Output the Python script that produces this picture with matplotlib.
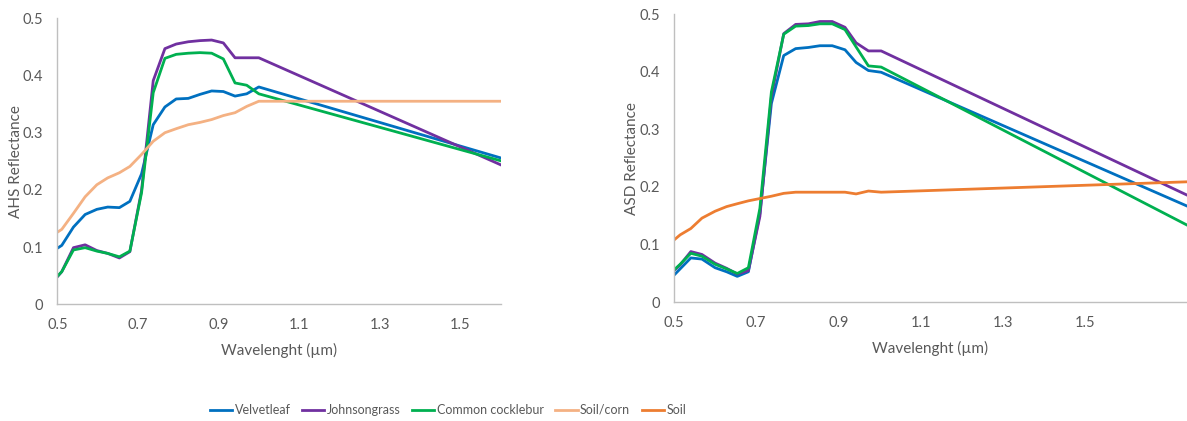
import matplotlib.pyplot as plt

plt.rcParams["font.family"] = ["Lato", "DejaVu Sans"]

# AHS bands (left panel)
ahs_wl = [0.5, 0.511, 0.540, 0.569, 0.598, 0.625, 0.654, 0.680, 0.709, 0.738,
          0.767, 0.795, 0.825, 0.854, 0.883, 0.912, 0.941, 0.970, 1.0, 1.6]
ahs_velvetleaf = [0.098, 0.103, 0.135, 0.157, 0.166, 0.170, 0.169, 0.180, 0.228, 0.314,
                  0.345, 0.359, 0.360, 0.367, 0.373, 0.372, 0.364, 0.368, 0.380, 0.256]
ahs_johnsongrass = [0.048, 0.057, 0.099, 0.104, 0.094, 0.089, 0.081, 0.092, 0.199, 0.391,
                    0.447, 0.455, 0.459, 0.461, 0.462, 0.457, 0.431, 0.431, 0.431, 0.244]
ahs_cocklebur = [0.049, 0.057, 0.095, 0.099, 0.093, 0.089, 0.083, 0.093, 0.195, 0.370,
                 0.430, 0.437, 0.439, 0.440, 0.439, 0.429, 0.387, 0.383, 0.368, 0.251]
ahs_soil_corn = [0.126, 0.131, 0.159, 0.188, 0.209, 0.221, 0.230, 0.241, 0.262, 0.285,
                 0.300, 0.307, 0.314, 0.318, 0.323, 0.330, 0.335, 0.346, 0.355, 0.355]

# ASD resampled (right panel)
asd_wl = [0.5, 0.515, 0.541, 0.568, 0.600, 0.628, 0.654, 0.681, 0.709, 0.737,
          0.767, 0.796, 0.827, 0.855, 0.885, 0.916, 0.943, 0.973, 1.004, 1.748]
asd_velvetleaf = [0.047, 0.058, 0.077, 0.075, 0.060, 0.053, 0.045, 0.053, 0.154, 0.345,
                  0.428, 0.440, 0.442, 0.445, 0.445, 0.438, 0.416, 0.402, 0.399, 0.167]
asd_johnsongrass = [0.055, 0.065, 0.088, 0.083, 0.068, 0.059, 0.049, 0.055, 0.149, 0.357,
                    0.466, 0.482, 0.483, 0.487, 0.487, 0.477, 0.450, 0.436, 0.436, 0.186]
asd_cocklebur = [0.056, 0.066, 0.085, 0.080, 0.066, 0.058, 0.050, 0.060, 0.163, 0.365,
                 0.465, 0.479, 0.480, 0.483, 0.483, 0.473, 0.443, 0.410, 0.408, 0.134]
asd_soil = [0.108, 0.117, 0.128, 0.146, 0.158, 0.166, 0.171, 0.176, 0.180, 0.184,
            0.189, 0.191, 0.191, 0.191, 0.191, 0.191, 0.188, 0.193, 0.191, 0.209]

xticks = [0.5, 0.7, 0.9, 1.1, 1.3, 1.5]
yticks = [0, 0.1, 0.2, 0.3, 0.4, 0.5]
tick_labels_y = ["0", "0.1", "0.2", "0.3", "0.4", "0.5"]

c_velvet = "#0070C0"
c_johnson = "#7030A0"
c_cockle = "#00B050"
c_soilcorn = "#F4B183"
c_soil = "#ED7D31"
txt = "#595959"
spine = "#BFBFBF"
lw = 2.0

fig = plt.figure(figsize=(11.87, 4.21), dpi=100)
ax1 = fig.add_axes([0.0483, 0.2772, 0.3734, 0.6793])
ax2 = fig.add_axes([0.5678, 0.2819, 0.4322, 0.6848])

ax1.plot(ahs_wl, ahs_velvetleaf, color=c_velvet, lw=lw, label="Velvetleaf")
ax1.plot(ahs_wl, ahs_johnsongrass, color=c_johnson, lw=lw, label="Johnsongrass")
ax1.plot(ahs_wl, ahs_cocklebur, color=c_cockle, lw=lw, label="Common cocklebur")
ax1.plot(ahs_wl, ahs_soil_corn, color=c_soilcorn, lw=lw, label="Soil/corn")
ax1.plot([], [], color=c_soil, lw=lw, label="Soil")

ax2.plot(asd_wl, asd_velvetleaf, color=c_velvet, lw=lw)
ax2.plot(asd_wl, asd_johnsongrass, color=c_johnson, lw=lw)
ax2.plot(asd_wl, asd_cocklebur, color=c_cockle, lw=lw)
ax2.plot(asd_wl, asd_soil, color=c_soil, lw=lw)

panels = [(ax1, 1.6, "AHS Reflectance", -0.077), (ax2, 1.748, "ASD Reflectance", -0.068)]
for ax, xmax, ylab, ylab_x in panels:
    ax.set_xlim(0.5, xmax)
    ax.set_ylim(0, 0.5)
    ax.set_xticks(xticks)
    ax.set_xticklabels([str(t) for t in xticks])
    ax.set_yticks(yticks)
    ax.set_yticklabels(tick_labels_y)
    ax.tick_params(length=0, labelsize=10.5, labelcolor=txt)
    ax.tick_params(axis="x", pad=10)
    ax.tick_params(axis="y", pad=10)
    for s in ["top", "right"]:
        ax.spines[s].set_visible(False)
    for s in ["left", "bottom"]:
        ax.spines[s].set_color(spine)
        ax.spines[s].set_linewidth(1.0)
    ax.set_xlabel("Wavelenght (\u00b5m)", fontsize=11, color=txt, labelpad=8)
    ax.set_ylabel(ylab, fontsize=11, color=txt)
    ax.yaxis.set_label_coords(ylab_x, 0.5)

fig.legend(loc="center", bbox_to_anchor=(448 / 1187, 1 - 410 / 421), ncol=5,
           frameon=False, fontsize=9, handlelength=1.8, handletextpad=0.2,
           columnspacing=0.9, labelcolor=txt)

fig.savefig("out.png", dpi=100)
